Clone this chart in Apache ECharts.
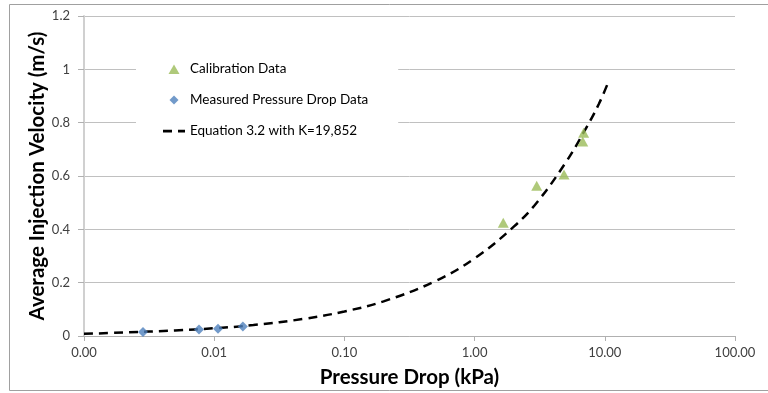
<!DOCTYPE html>
<html>
<head>
<meta charset="utf-8">
<script src="https://cdn.jsdelivr.net/npm/echarts@6/dist/echarts.min.js"></script>
<style>
  html, body { margin: 0; padding: 0; background: #fff; }
  #chart { width: 768px; height: 393px; }
</style>
</head>
<body>
<div id="chart"></div>
<script>
// Calibration runs: pressure drop (kPa) and average injection velocity (m/s)
const calibPressure = [1.66, 3.0, 4.86, 6.77, 6.88];
const calibVelocity = [0.425, 0.563, 0.606, 0.729, 0.762];

// Measured pressure drop runs
const measPressure = [0.00284, 0.00764, 0.0107, 0.0166];
const measVelocity = [0.015, 0.024, 0.027, 0.036];

const eqPressure = [0.001, 0.002, 0.005, 0.01, 0.02, 0.05, 0.1, 0.2, 0.5, 1, 2, 3, 5, 7, 9, 10.8];
const eqVelocity = [0.008, 0.013, 0.021, 0.029, 0.041, 0.065, 0.092, 0.13, 0.206, 0.291, 0.41, 0.50, 0.65, 0.77, 0.87, 0.96];

// Axis ranges and tick values
const xMin = 0.001, xMax = 100;
const yMin = 0, yMax = 1.2, yStep = 0.2;

const seriesNames = ['Calibration Data', 'Measured Pressure Drop Data', 'Equation 3.2 with K=19,852'];
const axisTitleX = 'Pressure Drop (kPa)';
const axisTitleY = 'Average Injection Velocity (m/s)';

const zip = (xs, ys) => xs.map((x, i) => [x, ys[i]]);
const FONT = 'Lato';

// Legend icons drawn in a 22x10 box (corner points pin the box so nothing is stretched)
const ICON_TRIANGLE = 'path://M0,0L0,0M22,10L22,10M11,0.5L16.5,10L5.5,10Z';
const ICON_DIAMOND = 'path://M0,0L0,0M22,10L22,10M11,0.5L15.5,5L11,9.5L6.5,5Z';
const ICON_DASH = 'path://M0,0L0,0M22,10L22,10M0,3.8h9v2.6h-9zM15,3.8h7v2.6h-7z';

const chart = echarts.init(document.getElementById('chart'), null, { renderer: 'canvas' });
chart.setOption({
  animation: false,
  backgroundColor: '#fff',
  textStyle: { fontFamily: FONT },
  graphic: [{
    type: 'rect',
    shape: { x: 9.5, y: 4.5, width: 770, height: 386 },
    style: { fill: 'none', stroke: '#a0a0a0', lineWidth: 1 },
    z: -1
  }],
  grid: { left: 84, right: 33, top: 16, bottom: 57 },
  legend: {
    left: 136, top: 50,
    orient: 'vertical',
    backgroundColor: '#fff',
    padding: [12, 30, 12, 27],
    itemWidth: 22, itemHeight: 10, itemGap: 17,
    symbolKeepAspect: true,
    textStyle: { fontFamily: FONT, fontSize: 13.5, color: '#000' },
    data: [
      { name: seriesNames[0], icon: ICON_TRIANGLE },
      { name: seriesNames[1], icon: ICON_DIAMOND },
      { name: seriesNames[2], icon: ICON_DASH }
    ],
    z: 3
  },
  xAxis: {
    type: 'log', logBase: 10, min: xMin, max: xMax,
    name: axisTitleX, nameLocation: 'middle', nameGap: 31,
    nameTextStyle: { fontFamily: FONT, fontSize: 20.5, fontWeight: 'bold', color: '#000' },
    axisLine: { show: true, lineStyle: { color: '#b0b0b0', width: 1 } },
    axisTick: { show: true, inside: false, length: 5, lineStyle: { color: '#b0b0b0' } },
    axisLabel: { fontFamily: FONT, fontSize: 13, color: '#404040', margin: 10,
      formatter: v => Number(v).toFixed(2) },
    splitLine: { show: false },
    minorTick: { show: false }
  },
  yAxis: {
    type: 'value', min: yMin, max: yMax, interval: yStep,
    name: axisTitleY, nameLocation: 'middle', nameGap: 36, nameRotate: 90,
    nameMoveOverlap: false,
    nameTextStyle: { fontFamily: FONT, fontSize: 20.5, fontWeight: 'bold', color: '#000' },
    axisLine: { show: true, lineStyle: { color: '#d0d0d0', width: 2 } },
    axisTick: { show: true, length: 6, lineStyle: { color: '#b0b0b0' } },
    axisLabel: { fontFamily: FONT, fontSize: 13, color: '#404040', margin: 14,
      formatter: v => String(Math.round(v * 10) / 10) },
    splitLine: { show: true, lineStyle: { color: '#c0c0c0', width: 1 } }
  },
  series: [
    {
      name: seriesNames[2], type: 'line',
      data: zip(eqPressure, eqVelocity),
      smooth: 0.4, symbol: 'none',
      lineStyle: { color: '#000', width: 2.5, type: [9, 6] },
      itemStyle: { color: '#000' },
      z: 2
    },
    {
      name: seriesNames[0], type: 'scatter',
      data: zip(calibPressure, calibVelocity),
      symbol: 'triangle', symbolSize: [11, 10],
      itemStyle: { color: '#9bbb59' },
      z: 3
    },
    {
      name: seriesNames[1], type: 'scatter',
      data: zip(measPressure, measVelocity),
      symbol: 'diamond', symbolSize: [10, 10],
      itemStyle: { color: '#4f81bd' },
      z: 3
    }
  ]
});
</script>
</body>
</html>
